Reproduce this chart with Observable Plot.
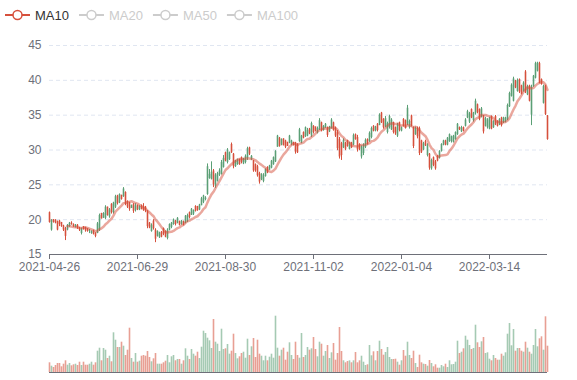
<!DOCTYPE html>
<html><head><meta charset="utf-8">
<script src="https://cdn.jsdelivr.net/npm/d3@7"></script>
<script src="https://cdn.jsdelivr.net/npm/@observablehq/plot@0.6"></script>
<style>
html,body{margin:0;padding:0;background:#fff;}
#wrap{position:relative;width:577px;height:380px;overflow:hidden;font-family:"Liberation Sans",Arial,sans-serif;}
#price{position:absolute;left:0;top:0;}
#vol{position:absolute;left:0;top:292px;}
#legend{position:absolute;left:0;top:0;}
</style></head><body>
<div id="wrap"><div id="price"></div><div id="vol"></div><svg id="legend" width="577" height="30"></svg></div>
<script>
const seriesNames = ["MA10", "MA20", "MA50", "MA100"];
const seriesActive = [true, false, false, false];
const tickLabels = ["2021-04-26", "2021-06-29", "2021-08-30", "2021-11-02", "2022-01-04", "2022-03-14"];
const tickIndex = [0, 44, 88, 132, 176, 220];
const priceTicks = [15, 20, 25, 30, 35, 40, 45];

const open = [
21.0,18.5,20.0,19.9,19.7,19.8,19.6,19.1,18.7,18.5,
19.0,19.5,19.3,18.9,19.2,18.8,18.0,19.0,18.9,18.7,
18.3,18.0,18.4,18.1,18.0,18.5,20.9,20.2,20.2,21.8,
20.4,22.2,21.0,21.8,23.4,22.4,23.5,23.3,23.9,22.6,
22.3,21.6,22.2,21.3,22.0,21.4,21.9,21.9,21.8,21.2,
19.5,18.3,19.8,18.5,17.6,17.4,18.2,18.7,18.3,17.3,
18.5,18.9,19.3,19.8,19.5,19.7,19.3,19.7,19.5,19.8,
21.0,20.6,20.8,21.9,21.9,21.4,22.0,22.5,22.9,23.6,
25.9,25.8,27.0,24.8,25.5,26.4,26.5,27.5,29.6,28.2,
28.6,30.8,29.4,27.6,27.9,28.6,28.9,28.0,28.2,28.8,
30.3,28.6,28.4,27.9,27.6,26.6,25.7,25.5,26.2,27.5,
27.1,27.4,27.9,28.3,30.4,31.7,30.7,31.6,31.3,31.1,
31.0,30.8,31.1,31.0,30.8,31.2,31.0,32.5,31.9,32.0,
33.0,32.0,33.4,33.3,32.4,32.9,33.9,32.8,33.2,33.2,
32.6,33.1,33.9,33.1,32.5,31.5,30.9,30.3,31.0,31.3,
30.1,31.0,30.7,32.2,31.8,30.8,29.0,29.5,30.4,31.5,
31.2,31.8,33.4,32.7,33.7,33.5,35.3,34.4,33.3,32.5,
33.2,32.9,33.9,33.2,32.0,33.9,32.7,34.4,34.2,33.7,
33.2,34.9,33.2,32.2,33.0,33.1,31.3,30.0,31.2,29.2,
29.4,27.3,28.9,28.3,29.1,28.8,29.8,30.7,31.3,30.7,
31.2,31.2,31.1,31.5,32.2,33.2,32.6,33.2,33.4,34.6,
34.0,35.8,34.2,35.2,36.5,35.8,34.7,34.9,33.4,33.2,
33.0,34.8,33.2,34.8,34.1,33.6,34.6,33.9,34.0,34.3,
36.2,37.7,37.0,39.9,38.4,40.1,39.2,38.4,41.2,37.9,
39.2,35.0,39.1,40.3,41.3,42.4,40.1,36.7,39.2,34.9];

const high = [
21.1,20.0,20.0,20.0,19.8,19.9,19.6,19.2,18.9,19.3,
19.6,19.7,19.4,19.3,19.3,18.9,18.8,19.0,18.9,18.7,
18.6,18.4,18.5,18.1,19.6,20.8,20.9,21.0,22.0,21.8,
21.6,22.3,22.5,23.5,23.5,23.7,23.5,24.6,24.0,22.7,
22.5,22.1,22.3,22.3,22.1,22.0,22.1,22.3,21.9,21.3,
19.6,19.4,20.0,18.7,18.4,18.2,18.3,18.8,18.4,18.7,
19.4,19.6,20.1,19.9,20.3,19.8,19.9,19.8,20.6,20.8,
21.1,21.6,21.4,22.0,21.9,22.2,23.2,23.5,23.3,28.0,
27.2,28.3,27.2,26.6,26.8,27.3,28.5,29.2,29.7,30.2,
29.7,31.0,29.5,28.5,28.7,28.7,29.0,28.8,29.3,30.4,
30.4,29.2,28.5,28.0,27.8,26.8,26.6,26.6,27.3,27.6,
27.8,28.5,29.0,29.9,32.1,31.8,31.6,31.6,31.4,31.1,
32.1,31.4,31.1,31.1,30.9,33.1,32.1,32.6,33.3,33.1,
33.1,34.0,33.5,33.3,33.3,34.5,34.0,33.5,33.8,33.3,
33.4,34.5,34.0,33.3,32.8,31.8,31.1,31.6,31.1,31.4,
31.1,31.1,32.3,32.3,32.1,30.9,30.6,30.9,31.6,31.6,
32.6,33.3,33.5,33.4,33.8,35.2,35.4,34.5,34.8,34.0,
35.0,34.5,34.0,33.3,33.8,34.0,33.3,34.5,34.3,36.4,
34.3,35.0,33.3,33.3,33.3,33.3,31.4,31.1,31.4,30.9,
29.5,28.7,29.0,28.5,29.2,29.9,30.9,31.4,31.4,31.8,
32.3,32.0,32.1,32.6,33.8,33.3,33.4,33.3,34.5,35.7,
35.4,35.9,35.4,37.3,36.6,35.9,36.1,34.95,34.7,34.5,
34.7,34.9,34.2,34.95,34.2,34.5,34.7,34.7,34.7,36.6,
38.3,39.5,40.45,40.0,40.2,40.2,39.3,39.8,41.4,39.3,
39.3,39.3,40.7,42.6,42.6,42.6,40.2,39.3,39.3,34.95];

const low = [
19.5,18.35,19.5,19.4,18.4,19.0,18.9,18.3,17.0,18.4,
18.9,19.2,18.9,18.8,18.6,18.3,17.8,18.5,18.2,18.2,
18.0,17.9,17.8,17.4,18.0,18.3,20.1,20.2,20.0,20.5,
20.2,20.8,20.8,21.6,22.1,22.3,22.8,23.2,22.0,21.6,
21.2,21.6,20.9,21.1,21.3,21.3,21.4,21.2,21.0,18.7,
18.7,18.2,18.5,16.7,17.5,17.3,17.4,17.7,17.4,17.1,
18.4,18.7,19.2,19.1,19.4,19.1,19.2,19.1,19.4,19.6,
20.1,20.6,20.6,21.1,21.2,21.3,22.0,22.3,22.7,23.5,
25.8,25.7,24.6,24.5,25.4,26.2,26.4,27.4,28.3,28.0,
28.5,29.5,27.3,27.5,27.8,27.8,28.0,27.9,28.0,28.5,
29.2,28.5,26.8,26.8,26.1,25.1,25.6,25.3,26.1,26.6,
27.1,27.3,27.8,28.2,30.4,30.4,30.6,30.6,30.2,30.5,
30.9,30.6,30.6,29.4,29.5,31.1,30.9,31.6,31.8,31.9,
32.2,31.8,32.3,32.6,32.3,32.8,32.6,32.7,33.1,31.8,
32.5,33.0,32.7,31.8,29.9,28.7,28.5,30.2,29.9,30.4,
30.0,30.2,30.6,31.4,29.7,29.9,28.7,29.2,30.2,30.7,
31.1,31.6,32.6,32.6,32.6,33.5,33.8,33.0,33.2,32.3,
33.0,32.8,32.3,32.1,31.8,32.6,32.6,33.3,33.0,33.5,
33.0,33.3,30.2,32.1,31.6,29.2,29.5,29.9,30.5,29.0,
27.1,27.1,27.6,27.1,28.3,28.7,29.7,30.6,30.6,30.6,
31.1,31.0,31.0,31.4,32.1,32.8,32.5,32.6,33.3,34.5,
33.8,34.5,34.0,35.0,35.2,34.2,34.6,32.3,33.3,33.0,
32.9,32.9,33.1,33.5,33.3,33.5,33.3,33.8,33.9,34.2,
36.1,37.6,36.9,38.8,38.3,38.1,37.9,38.3,38.1,37.8,
36.9,33.5,39.0,40.2,41.2,39.5,39.3,36.6,34.95,31.4];

const close = [
19.6,19.9,19.6,19.5,18.5,19.3,19.0,18.5,17.6,19.2,
19.5,19.3,19.0,19.2,18.7,18.5,18.6,18.6,18.4,18.3,
18.4,18.3,17.9,17.6,19.4,20.6,20.1,20.9,21.8,20.6,
21.4,21.0,22.4,23.3,22.3,23.6,22.9,24.4,22.2,21.8,
21.5,22.0,21.2,22.0,21.4,21.9,21.5,21.3,21.2,19.0,
18.8,19.2,18.7,17.2,18.3,18.1,17.5,17.9,17.5,18.5,
19.3,19.5,20.0,19.3,20.2,19.2,19.8,19.2,20.5,20.6,
20.3,21.5,21.3,21.2,21.3,22.1,23.0,23.4,23.1,27.6,
26.5,26.8,25.0,26.4,26.6,27.0,28.2,28.8,28.4,30.0,
29.6,29.6,27.6,28.4,28.6,27.9,28.2,28.7,29.1,30.2,
29.4,29.1,27.0,27.0,26.3,25.4,26.5,26.3,27.2,26.7,
27.7,28.4,28.9,29.8,32.0,30.5,31.5,30.6,30.4,30.5,
32.0,31.3,30.6,29.7,29.6,32.9,32.0,31.7,33.2,32.8,
32.3,33.8,32.5,32.7,33.1,34.2,32.8,33.4,33.7,32.1,
33.3,34.3,32.8,32.0,30.2,29.0,29.2,31.4,30.1,30.5,
31.0,30.3,32.1,31.5,30.0,30.1,30.4,30.7,31.4,30.8,
32.4,33.1,32.7,33.3,32.8,35.0,33.9,33.2,34.5,33.8,
34.8,34.3,32.5,32.3,33.6,32.8,33.2,33.4,33.1,36.0,
34.1,33.5,30.5,33.1,31.9,29.5,29.7,30.9,30.6,30.7,
27.4,28.5,27.8,27.3,28.4,29.8,30.8,31.3,30.7,31.7,
32.2,31.9,32.0,32.5,33.7,32.9,33.2,32.7,34.3,35.5,
35.2,34.6,35.3,37.0,35.4,34.4,35.9,32.6,34.5,34.3,
34.6,33.0,34.1,33.6,33.4,34.4,33.5,34.6,34.6,36.4,
38.1,39.3,40.2,38.9,40.0,38.3,38.0,39.6,38.3,39.1,
37.0,39.1,40.6,42.4,42.5,39.6,39.4,39.1,35.1,31.5];

const volume = [
9.7,6.3,5,7,9,9,5.7,8.3,11.7,7.3,
9,6.7,7.7,8.3,7,10.3,7,10.3,7.3,7.3,
8.3,10.3,7.3,9.7,21.3,24.3,11.7,24,22.3,14,
16.3,10.7,39.7,32.3,25,25,30.3,26.3,17,22.3,
44.3,14,10.3,19,10.3,11.3,16.3,17,16.3,21,
15,10.7,13.7,19,8.3,8.3,8.3,9.7,11.3,17,
9.7,15.7,17,11.7,13,13,8.3,11.7,23.7,16.3,
13,23,18.3,16.3,20.3,14,25.3,41.3,39,34.3,
31.7,24,53,30.3,28.3,21,43.3,23,23.7,28,
18.3,21.3,38.3,19,13.7,15.7,19,20.3,14.3,33.3,
17,25.7,34,15,32.3,18.3,16.3,11.7,16.3,11.7,
15.3,18.3,14.3,56.3,24.3,16.3,22.3,24.3,12.3,20.3,
29.7,17,13,30.3,17,14.3,39,15,17,25,
22.3,23.7,35,23,15.7,30.3,28.3,16.3,21,27,
14,19.7,29,12.3,19,45,21,11.7,9.7,11,
11.7,9.7,11.7,20,9.7,11.7,16.3,10.3,7,7.7,
27,16.7,20.7,11.7,21,31.3,23,17.3,20,25,
15,13,13,13.3,10.3,7.3,11.7,22,16.3,30.3,
17,14,21.3,9,5,17.3,9.7,8.3,8,6.3,
12,9,5.7,7.7,4.3,4.3,7,5.7,8.3,5,
11.7,7.7,8,10.3,31.3,19,20.3,23.7,36.3,32.3,
27,23,24,47.3,29.7,25,30.7,35,19,19.7,
13.3,11.7,17,14,12.3,12.3,18.3,16.3,19.7,38.3,
49,26.7,43,21.3,24,24,21.3,20.3,30.3,24.3,
20.3,18.3,27,43,25.7,33.7,35.7,22.3,55.7,26.3];

const UP = "#5b9f75", DOWN = "#d6503c", AXIS = "#6E7079";
const N = close.length;

const rows = close.map((c, i) => {
  let ma = null;
  if (i >= 9) ma = d3.mean(close.slice(i - 9, i + 1));
  return {i, o: open[i], h: high[i], l: low[i], c, v: volume[i], up: c >= open[i], ma};
});
const labelMap = new Map(tickIndex.map((t, k) => [t, tickLabels[k]]));
const font = {fontFamily: "'Liberation Sans', Arial, sans-serif", fontSize: "12px", color: AXIS, background: "transparent", overflow: "visible"};

const price = Plot.plot({
  width: 577, height: 280,
  marginLeft: 49, marginRight: 30, marginTop: 45, marginBottom: 26,
  style: font,
  x: {domain: [0, N - 1], axis: null, label: null},
  y: {domain: [15, 45], axis: null, label: null},
  marks: [
    Plot.gridY(priceTicks.slice(1), {stroke: "#E0E6F1", strokeOpacity: 1, strokeDasharray: "4,3"}),
    Plot.axisY(priceTicks, {tickSize: 0, tickPadding: 8, fill: AXIS, label: null}),
    Plot.ruleX(rows, {x: "i", y1: "l", y2: "h", stroke: d => d.up ? UP : DOWN, strokeWidth: 1}),
    Plot.ruleX(rows, {x: "i", y1: "o", y2: "c", stroke: d => d.up ? UP : DOWN, strokeWidth: 1.6}),
    Plot.line(rows.filter(d => d.ma != null), {x: "i", y: "ma", stroke: DOWN, strokeOpacity: 0.5, strokeWidth: 2.5}),
    Plot.ruleY([15], {stroke: AXIS}),
    Plot.axisX(tickIndex, {tickSize: 5, tickPadding: 3, stroke: AXIS, fill: AXIS, label: null, tickFormat: d => labelMap.get(d)})
  ]
});
document.getElementById("price").appendChild(price);

const vol = Plot.plot({
  width: 577, height: 88,
  marginLeft: 49, marginRight: 30, marginTop: 20, marginBottom: 8,
  style: font,
  x: {domain: [0, N - 1], axis: null, label: null},
  y: {domain: [0, 60], axis: null, label: null},
  marks: [
    Plot.ruleX(rows, {x: "i", y1: 0, y2: "v", stroke: d => d.up ? UP : DOWN, strokeOpacity: 0.55, strokeWidth: 1.6}),
    Plot.ruleY([0], {stroke: AXIS, strokeWidth: 1.2})
  ]
});
document.getElementById("vol").appendChild(vol);

// legend
const lg = d3.select("#legend");
let lx = 5;
seriesNames.forEach((name, k) => {
  const col = seriesActive[k] ? DOWN : "#ccc";
  const g = lg.append("g").attr("transform", `translate(${lx},15)`);
  g.append("line").attr("x1", 0).attr("x2", 25).attr("y1", 0).attr("y2", 0).attr("stroke", col).attr("stroke-width", 2);
  g.append("circle").attr("cx", 12.5).attr("cy", 0).attr("r", 4.5).attr("fill", "#fff").attr("stroke", col).attr("stroke-width", 1.5);
  const t = g.append("text").attr("x", 30).attr("y", 0).attr("dy", "0.35em")
    .attr("font-family", "'Liberation Sans', Arial, sans-serif").attr("font-size", 13)
    .attr("fill", seriesActive[k] ? "#333" : "#ccc").text(name);
  lx += 30 + t.node().getComputedTextLength() + 10;
});
</script>
</body></html>
